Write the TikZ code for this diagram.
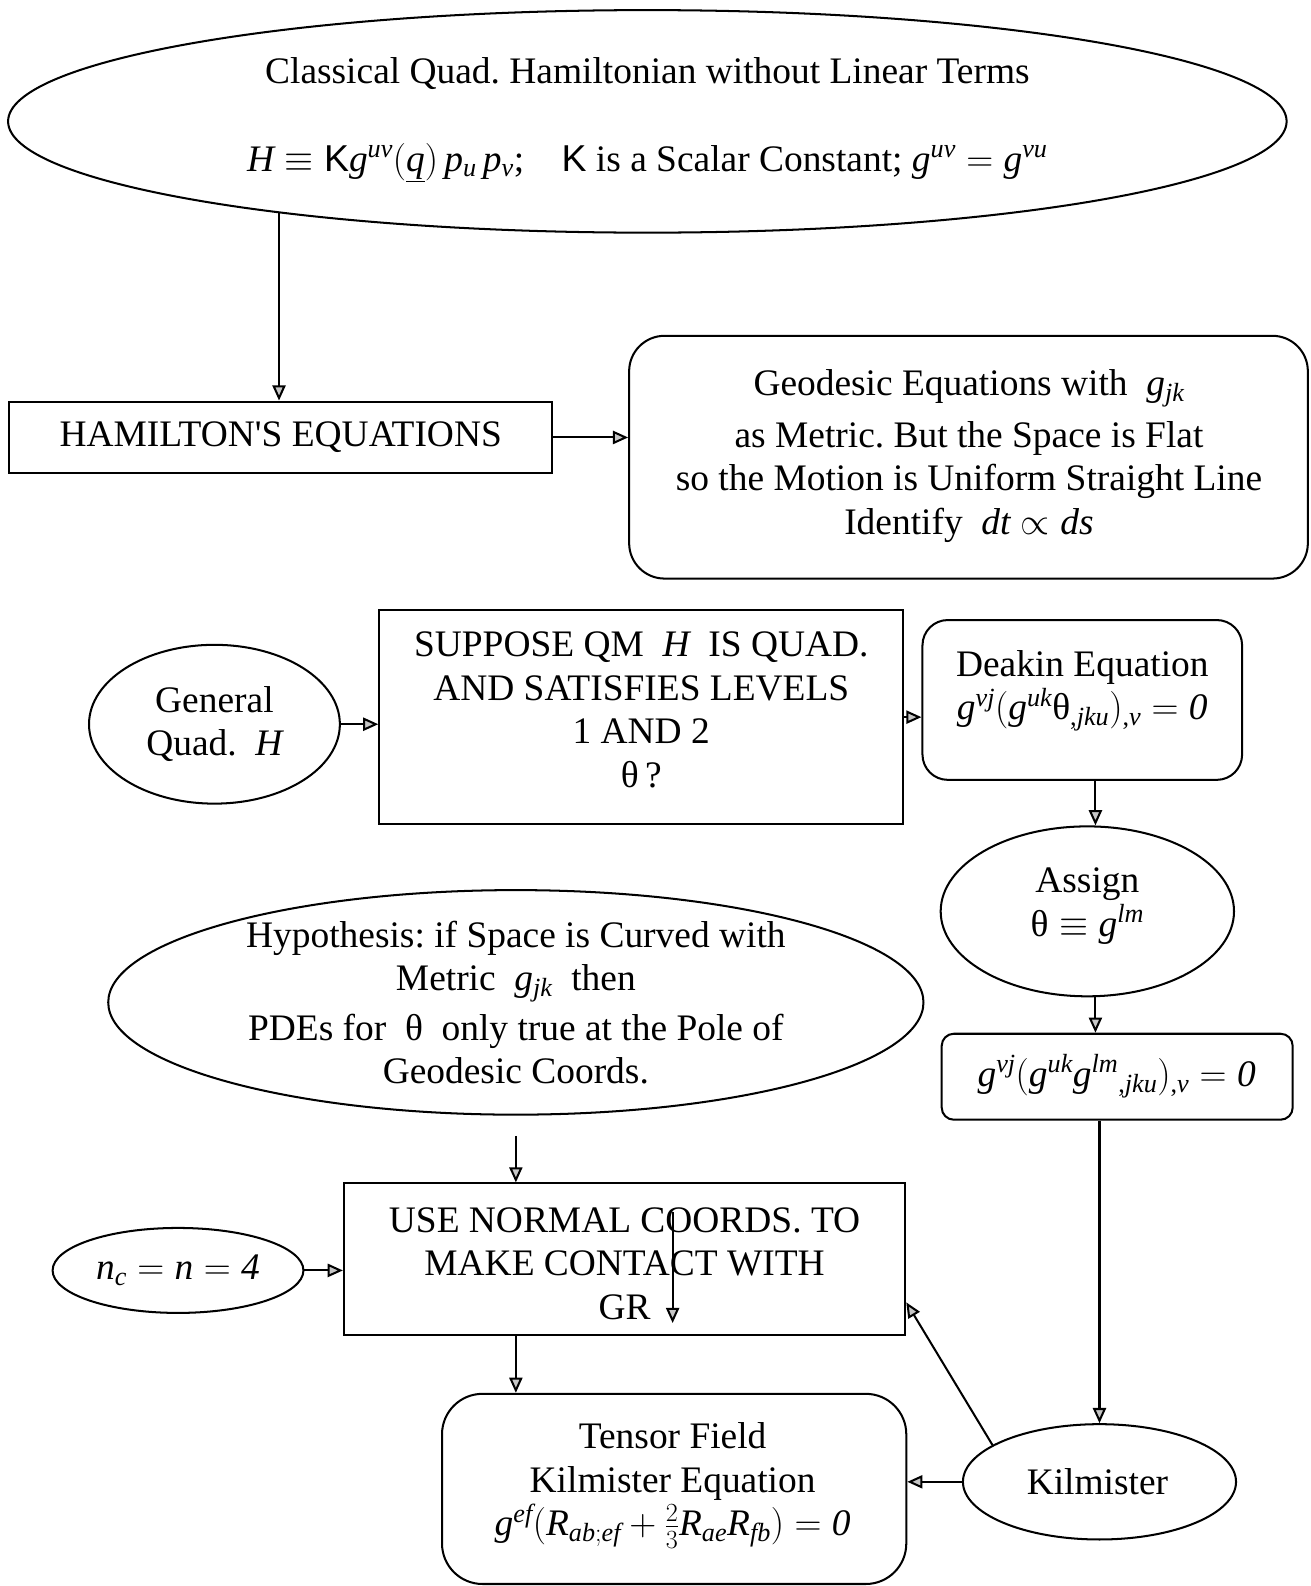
\RequirePackage{fix-cm}
\documentclass[tikz,border=0pt]{standalone}
\usepackage{fontspec}
\setmainfont{Liberation Serif}
\setsansfont{Liberation Sans}
\newfontfamily\plainrm{Liberation Serif}[NFSSFamily=libserif]
% math letters and digits in the same serif as the text
\DeclareSymbolFont{letters}{TU}{libserif}{m}{it}
\DeclareSymbolFont{operators}{TU}{libserif}{m}{n}
\mathcode`\,="602C
\usetikzlibrary{shapes.geometric,arrows.meta,calc}
\newcommand\diagfont{\fontsize{37}{43}\selectfont\frenchspacing}
\begin{document}
\begin{tikzpicture}[x=1pt,y=-1pt,line width=2pt,
  outline/.style={draw, line width=2pt, fill=white, inner sep=0pt},
  sqbox/.style={outline, rectangle},
  rbox/.style={outline, rectangle, rounded corners=#1},
  oval/.style={outline, ellipse},
  txt/.style={align=center, inner sep=0pt, font=\diagfont},
  arr/.style={-{Triangle[length=15pt,width=13pt,fill=gray!45]}, line width=2pt}]
\useasboundingbox (0,0) rectangle (1296,1568);

% ---- outlines ----
\node[oval, minimum width=1264pt, minimum height=220pt] (top) at (640,120) {};
\node[sqbox, minimum width=537pt, minimum height=71pt] (ham) at (277.5,432.5) {};
\node[rbox=35pt, minimum width=671pt, minimum height=240pt] (geo) at (957.5,452) {};
\node[oval, minimum width=248pt, minimum height=157pt] (gen) at (212,716) {};
\node[sqbox, minimum width=518pt, minimum height=212pt] (sup) at (634,709) {};
\node[rbox=25pt, minimum width=316pt, minimum height=158pt] (deak) at (1070,692) {};
\node[oval, minimum width=290pt, minimum height=168pt] (asg) at (1075,901) {};
\node[rbox=12pt, minimum width=347pt, minimum height=85pt] (gbx) at (1104.5,1064.5) {};
\node[oval, minimum width=806pt, minimum height=222pt] (hyp) at (510,991) {};
\node[sqbox, minimum width=555pt, minimum height=150pt] (use) at (617.5,1245) {};
\node[oval, minimum width=248pt, minimum height=84pt] (nc) at (176,1256) {};
\node[rbox=40pt, minimum width=459pt, minimum height=188pt] (ten) at (666.5,1472) {};
\node[oval, minimum width=270pt, minimum height=114pt] (kil) at (1087,1465) {};

% ---- texts ----
\node[txt] (toptext) at (640,118) {Classical Quad. Hamiltonian without Linear Terms\\[44pt]
  $H \equiv \textsf{K}g^{uv}(\underline{q})\,p_u\,p_v$;\quad \textsf{K} is a Scalar Constant; $g^{uv}=g^{vu}$};
\node[txt] (hamtext) at (277.5,432) {HAMILTON{\plainrm '}S EQUATIONS};
\node[txt] (geotext) at (958,451) {Geodesic Equations with\ \ $g_{jk}$\\[8pt]
  as Metric. But the Space is Flat\\
  so the Motion is Uniform Straight Line\\
  Identify\ \ $dt\propto ds$};
\node[txt] (gentext) at (212,716) {General\\Quad.\ \ $H$};
\node[txt] (suptext) at (634,702) {SUPPOSE QM\ \ $H$\ \ IS QUAD.\\AND SATISFIES LEVELS\\1 AND 2\\θ\,?};
\node[txt] (deaktext) at (1070,683) {Deakin Equation\\
  $g^{vj}(g^{uk}\mbox{θ}_{,jku})_{,v}=\mathit{0}$};
\node[txt] (asgtext) at (1075,896) {Assign\\$\mbox{θ}\equiv g^{lm}$};
\node[txt] (gbxtext) at (1104,1064) {$g^{vj}(g^{uk}g^{lm}{}_{,jku})_{,v}=\mathit{0}$};
\node[txt] (hyptext) at (510,991) {Hypothesis: if Space is Curved with\\
  Metric\ \ $g_{jk}$\ \ then\\[6pt]
  PDEs for\ \ θ\ \ only true at the Pole of\\
  Geodesic Coords.};
\node[txt] (usetext) at (617.5,1249) {USE NORMAL COORDS. TO\\MAKE CONTACT WITH\\GR};
\node[txt] (nctext) at (176,1256) {$n_c=n=\mathit{4}$};
\node[txt] (tentext) at (665,1469) {Tensor Field\\Kilmister Equation\\
  $g^{ef}(R_{ab;ef}+\frac{2}{3}R_{ae}R_{fb})=\mathit{0}$};
\node[txt] (kiltext) at (1085,1465) {Kilmister};

% ---- connectors ----
\draw[arr] (top.194) -- (top.194 |- ham.north);
\draw[arr] (ham.east) -- (ham.east -| geo.west);
\draw[arr] (gen.east) -- (gen.east -| sup.west);
\draw[arr] (sup.east) -- (sup.east -| deak.west);
\draw[arr] ([xshift=13pt]deak.south) -- ([xshift=13pt]deak.south |- asg.north);
\draw[arr] ([xshift=8pt]asg.south) -- ([xshift=8pt]asg.south |- gbx.north);
\draw[arr] (kil.north |- gbx.south) -- (kil.north);
\draw[arr] (kil.west) -- (kil.west -| ten.east);
\draw[arr] (kil.161) -- ($(use.north east)!0.78!(use.south east)$);
\draw[arr, shorten <=20pt] (hyp.south) -- (hyp.south |- use.north);
\draw[arr] (use.south -| hyp.south) -- (hyp.south |- ten.north);
\draw[arr] (nc.east) -- (nc.east -| use.west);
\coordinate (grfrom) at (665,1198);
\coordinate (grto) at (665,1308);
\draw[arr] (grfrom) -- (grto);
\end{tikzpicture}
\end{document}
